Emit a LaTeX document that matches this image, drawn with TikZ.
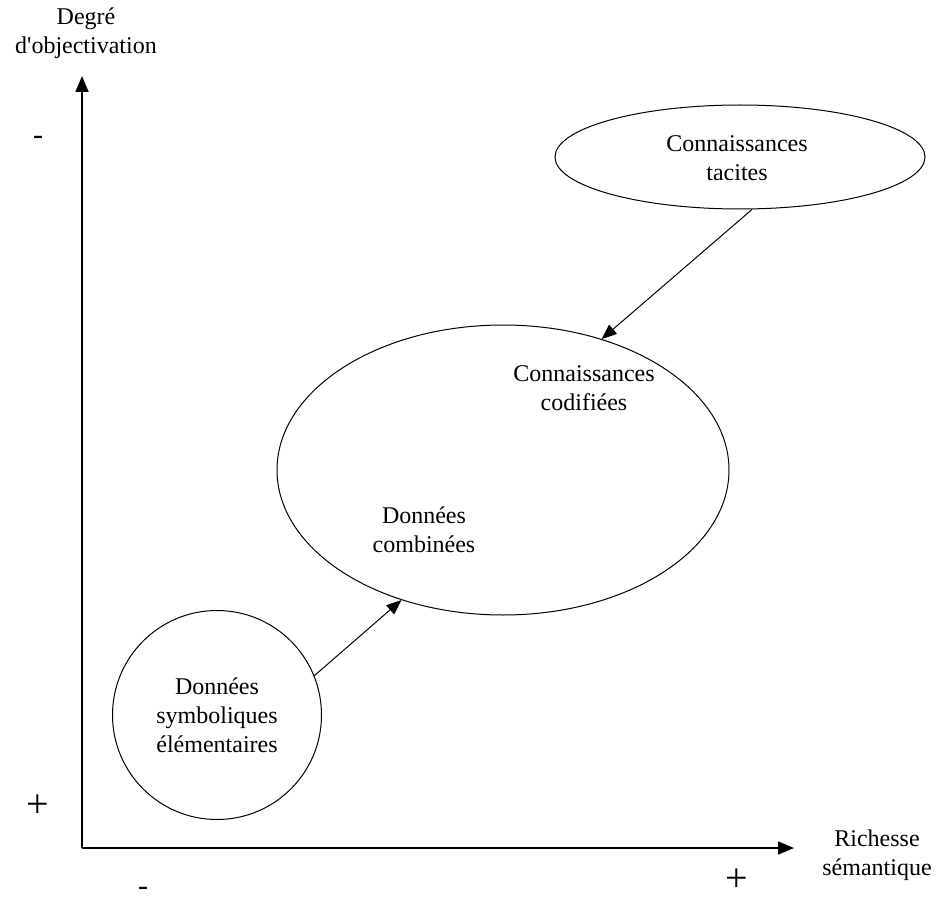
\documentclass[tikz,border=0pt]{standalone}
\usepackage{fontspec}
\setmainfont{Liberation Serif}
\usetikzlibrary{arrows.meta,shapes.geometric}

\begin{document}
\begin{tikzpicture}[x=1pt, y=-1pt,
    every node/.style={font=\fontsize{24}{29}\selectfont, align=center},
    plussign/.style={inner sep=0pt, font=\fontsize{40}{40}\selectfont},
    minussign/.style={inner sep=0pt, font=\fontsize{30}{30}\selectfont},
    bubble/.style={draw, line width=1pt, inner sep=0pt},
    axis/.style={line width=1.8pt, -{Triangle[length=16pt,width=13pt]}},
    link/.style={line width=1pt, -{Triangle[length=15pt,width=12pt]}}]
    \useasboundingbox (0,0) rectangle (937,904);

    % Axes
    \coordinate (origin) at (82,848);
    \coordinate (ytip) at (82,76);
    \coordinate (xtip) at (794,848);
    \draw[axis] (origin) -- (ytip);
    \draw[axis] (origin) -- (xtip);

    % Axis labels
    \node (ylabel) at (86,33) {Degré\\d\textquotesingle objectivation};
    \node (xlabel) at (877,855) {Richesse\\sémantique};
    \node[minussign] (yminus) at (38,140) {-};
    \node[plussign] (yplus) at (38,806) {+};
    \node[minussign] (xminus) at (143,891) {-};
    \node[plussign] (xplus) at (737,880) {+};

    % Bubbles
    \node[bubble, ellipse, minimum width=370pt, minimum height=104pt] (tacit) at (740,157) {};
    \node (tacittext) at (737,158) {Connaissances\\tacites};
    \node[bubble, ellipse, minimum width=452pt, minimum height=290pt] (codif) at (503,470) {};
    \node (codiftext) at (584,388) {Connaissances\\codifiées};
    \node (combtext) at (424,530) {Données\\combinées};
    \node[bubble, circle, minimum size=209pt] (sym) at (217,715) {Données\\symboliques\\élémentaires};

    % Connections
    \draw[link] (sym.22) -- (codif.232);
    \draw[link] (tacit.283) -- (codif.53);
\end{tikzpicture}
\end{document}
